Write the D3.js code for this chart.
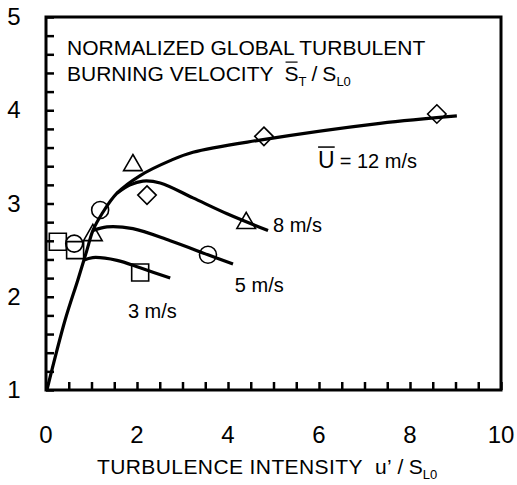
<!DOCTYPE html>
<html>
<head>
<meta charset="utf-8">
<script src="https://cdn.jsdelivr.net/npm/d3@7"></script>
<style>
  body { margin: 0; background: #fff; }
  svg text { font-family: "Liberation Sans", Arial, sans-serif; fill: #000; white-space: pre; }
</style>
</head>
<body>
<div id="chart"></div>
<script>
// tick labels
var xTicks = [0, 2, 4, 6, 8, 10];
var yTicks = [1, 2, 3, 4, 5];

// measured points  (u'/SL0 , ST/SL0)
var sq3x = [0.26, 0.64, 2.07],   sq3y = [2.59, 2.50, 2.26];   // 3 m/s
var ci5x = [0.62, 1.19, 3.56],   ci5y = [2.57, 2.93, 2.45];   // 5 m/s
var tr8x = [1.03, 1.91, 4.40],   tr8y = [2.66, 3.41, 2.79];   // 8 m/s
var di12x = [2.22, 4.79, 8.59],  di12y = [3.09, 3.72, 3.96];  // 12 m/s

// fitted curves
var curve12x = [0.02, 0.42, 0.70, 0.90, 1.03, 1.23, 1.56, 2.07, 2.73, 3.23, 4.70, 7.34, 9.03];
var curve12y = [1.00, 1.75, 2.18, 2.50, 2.71, 2.89, 3.11, 3.30, 3.46, 3.55, 3.68, 3.86, 3.94];
var curve8x = [1.56, 1.85, 2.13, 2.51, 3.23, 3.98, 4.88];
var curve8y = [3.11, 3.20, 3.24, 3.22, 3.06, 2.89, 2.71];
var curve5x = [1.03, 1.34, 1.91, 2.73, 3.56, 4.11];
var curve5y = [2.71, 2.75, 2.73, 2.60, 2.45, 2.35];
var curve3x = [0.82, 1.03, 1.56, 2.07, 2.73];
var curve3y = [2.39, 2.42, 2.39, 2.31, 2.20];

var width = 517, height = 485;
var pL = 46, pR = 501, pT = 17, pB = 390;

var svg = d3.select("#chart").append("svg")
    .attr("width", width)
    .attr("height", height);

var x = d3.scaleLinear().domain([0, 10]).range([pL, pR]);
var y = d3.scaleLinear().domain([1, 5]).range([pB, pT]);

//刻度（内向）
svg.append("g")
    .attr("transform", "translate(0," + pB + ")")
    .call(d3.axisBottom(x).tickValues(d3.range(0, 10.01, 0.5)).tickSize(-8).tickFormat(""))
    .call(g => g.select(".domain").remove())
    .selectAll("line").attr("stroke", "#000").attr("stroke-width", 2.5);
svg.append("g")
    .attr("transform", "translate(" + pL + ",0)")
    .call(d3.axisLeft(y).tickValues(d3.range(1, 5.01, 0.2)).tickSize(-8).tickFormat(""))
    .call(g => g.select(".domain").remove())
    .selectAll("line").attr("stroke", "#000").attr("stroke-width", 2.5);

//边框
svg.append("rect")
    .attr("x", pL).attr("y", pT)
    .attr("width", pR - pL).attr("height", pB - pT)
    .attr("fill", "none").attr("stroke", "#000").attr("stroke-width", 3);

//刻度标签
svg.selectAll(".xl").data(xTicks).enter().append("text")
    .attr("x", d => x(d)).attr("y", 443)
    .attr("text-anchor", "middle").attr("font-size", 24)
    .text(d => d);
svg.selectAll(".yl").data(yTicks).enter().append("text")
    .attr("x", 14).attr("y", d => y(d) + 8)
    .attr("text-anchor", "middle").attr("font-size", 24)
    .text(d => d);

//曲线
var line = d3.line().x(d => x(d[0])).y(d => y(d[1])).curve(d3.curveCatmullRom.alpha(0.5));
[[curve12x, curve12y], [curve8x, curve8y], [curve5x, curve5y], [curve3x, curve3y]].forEach(function (c) {
    svg.append("path")
        .attr("d", line(d3.zip(c[0], c[1])))
        .attr("fill", "none").attr("stroke", "#000").attr("stroke-width", 3.2);
});

//符号
var diamondType = {
    draw: function (ctx, size) {
        var r = Math.sqrt(size / 2);
        ctx.moveTo(0, -r); ctx.lineTo(r, 0); ctx.lineTo(0, r); ctx.lineTo(-r, 0); ctx.closePath();
    }
};
function markers(xs, ys, type, size) {
    svg.append("g").selectAll("path").data(d3.zip(xs, ys)).enter().append("path")
        .attr("transform", d => "translate(" + x(d[0]) + "," + y(d[1]) + ")")
        .attr("d", d3.symbol().type(type).size(size))
        .attr("fill", "none").attr("stroke", "#000").attr("stroke-width", 1.6);
}
markers(sq3x, sq3y, d3.symbolSquare, 289);
markers(ci5x, ci5y, d3.symbolCircle, 227);
markers(tr8x, tr8y, d3.symbolTriangle, 150);
markers(di12x, di12y, diamondType, 170);

//标签
function label(t, dx, dy) {
    return svg.append("text").attr("x", x(dx)).attr("y", y(dy)).attr("font-size", 20).text(t);
}
label("3 m/s", 1.80, 1.77);
label("5 m/s", 4.15, 2.05);
label("8 m/s", 4.99, 2.69);
var uLab = label("U", 5.98, 3.38).attr("font-size", 23);
var uw = uLab.node().getComputedTextLength();
svg.append("line")
    .attr("x1", x(5.98)).attr("x2", x(5.98) + uw)
    .attr("y1", y(3.38) - 21).attr("y2", y(3.38) - 21)
    .attr("stroke", "#000").attr("stroke-width", 1.5);
svg.append("text").attr("x", x(5.98) + uw + 5).attr("y", y(3.38)).attr("font-size", 20).text("= 12 m/s");

//标题
svg.append("text").attr("x", 67).attr("y", 55).attr("font-size", 21).text("NORMALIZED GLOBAL TURBULENT");
var t2 = svg.append("text").attr("x", 67).attr("y", 81).attr("font-size", 21).text("BURNING VELOCITY");
var cx = 67 + t2.node().getComputedTextLength() + 11;
function sub(base, subs, xx, yy, fs, overline) {
    var b = svg.append("text").attr("x", xx).attr("y", yy).attr("font-size", fs).text(base);
    var bw = b.node().getComputedTextLength();
    if (overline) {
        svg.append("line").attr("x1", xx + 1).attr("x2", xx + bw - 1)
            .attr("y1", yy - fs * 0.9).attr("y2", yy - fs * 0.9)
            .attr("stroke", "#000").attr("stroke-width", 1.2);
    }
    var s = svg.append("text").attr("x", xx + bw).attr("y", yy + 5).attr("font-size", fs * 0.62).text(subs);
    return xx + bw + s.node().getComputedTextLength();
}
cx = sub("S", "T", cx, 81, 21, true);
var slash = svg.append("text").attr("x", cx + 5).attr("y", 81).attr("font-size", 21).text("/");
cx = cx + 5 + slash.node().getComputedTextLength() + 5;
sub("S", "L0", cx, 81, 21, false);

//x轴标题
var xt = svg.append("text").attr("x", 97).attr("y", 474).attr("font-size", 21)
    .attr("letter-spacing", 0.4).text("TURBULENCE INTENSITY  u\u2019 /");
var xe = 97 + xt.node().getComputedTextLength() + 5;
sub("S", "L0", xe, 474, 21, false);
</script>
</body>
</html>
